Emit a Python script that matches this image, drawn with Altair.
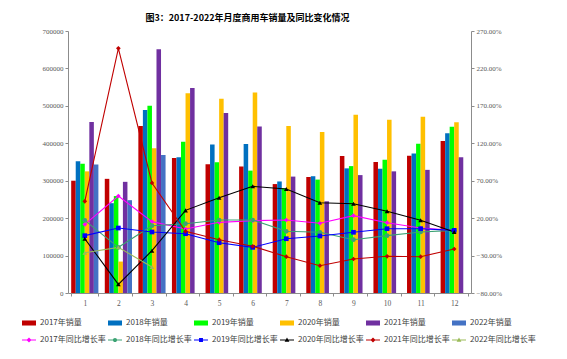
import altair as alt
import pandas as pd

months = [str(i) for i in range(1, 13)]

bar_series = ["2017年销量", "2018年销量", "2019年销量", "2020年销量", "2021年销量", "2022年销量"]
bar_colors = ["#C00000", "#0070C0", "#00FF00", "#FFC000", "#7030A0", "#4472C4"]

s2017 = [300000, 305000, 446000, 361000, 344000, 338000, 291000, 310000, 366000, 350000, 367000, 406000]
s2018 = [352000, 240000, 489000, 363000, 397000, 398000, 298000, 312000, 333000, 332000, 373000, 427000]
s2019 = [345000, 259000, 500000, 404000, 349000, 327000, 280000, 303000, 339000, 356000, 399000, 444000]
s2020 = [325000, 84000, 387000, 534000, 519000, 536000, 446000, 430000, 476000, 463000, 471000, 456000]
s2021 = [457000, 297000, 651000, 548000, 481000, 445000, 311000, 245000, 315000, 325000, 329000, 363000]
s2022 = [343000, 248000, 369000]

line_series = ["2017年同比增长率", "2018年同比增长率", "2019年同比增长率",
               "2020年同比增长率", "2021年同比增长率", "2022年同比增长率"]
line_colors = ["#FF00FF", "#3CA374", "#0000FF", "#000000", "#C00000", "#9BBB59"]
line_shapes = ["diamond", "circle", "square", "triangle-up", "diamond", "triangle-up"]

g2017 = [11.7, 49.6, 15.3, 5.5, 14.4, 16.6, 17.5, 13.1, 23.3, 13.9, 6.8, 3.7]
g2018 = [17.1, -19.0, 9.9, 12.6, 17.5, 17.5, 2.4, 1.1, -8.8, -3.4, 1.5, 3.7]
g2019 = [-3.4, 6.8, 1.5, -0.8, -12.8, -19.0, -7.5, -3.9, 1.1, 5.9, 5.9, 3.7]
g2020 = [-7.5, -68.4, -23.5, 30.4, 47.3, 62.5, 58.9, 40.6, 39.3, 29.1, 17.1, 1.5]
g2021 = [42.5, 246.8, 67.0, 2.4, -8.8, -17.6, -31.5, -43.5, -34.6, -31.0, -31.5, -21.2]
g2022 = [-26.2, -19.0, -45.3]

left_ticks = [0, 100000, 200000, 300000, 400000, 500000, 600000, 700000]
right_ticks = [-80, -30, 20, 70, 120, 170, 220, 270]

# legend-only symbols: a short line with the series marker
bar_legend_path = "M-1,-0.36H1V0.36H-1Z"
ln = "M-1,-0.06H1V0.06H-1Z "
legend_paths = [
    ln + "M0,-0.36L0.36,0L0,0.36L-0.36,0Z",
    ln + "M0.3,0A0.3,0.3 0 1,1 -0.3,0A0.3,0.3 0 1,1 0.3,0Z",
    ln + "M-0.28,-0.28H0.28V0.28H-0.28Z",
    ln + "M0,-0.34L0.34,0.26H-0.34Z",
    ln + "M0,-0.36L0.36,0L0,0.36L-0.36,0Z",
    ln + "M0,-0.34L0.34,0.26H-0.34Z",
]

rows = []
for name, vals in zip(bar_series, [s2017, s2018, s2019, s2020, s2021, s2022]):
    for m, v in zip(months, vals):
        rows.append({"month": m, "series": name, "value": v})
bars_df = pd.DataFrame(rows)

rows = []
for name, vals in zip(line_series, [g2017, g2018, g2019, g2020, g2021, g2022]):
    for m, v in zip(months, vals):
        rows.append({"month": m, "series": name, "value": v})
lines_df = pd.DataFrame(rows)

AX_FONT = "Liberation Serif"
LEG_FONT = "Noto Sans CJK SC"
GRAY = "#8c8c8c"
LABEL = "#595959"
LEG_FS = 8

x_enc = alt.X(
    "month:N", sort=months, title=None,
    scale=alt.Scale(paddingInner=0.19, paddingOuter=0.095),
    axis=alt.Axis(labelAngle=0, tickBand="extent", labelFont=AX_FONT, labelFontSize=7.5,
                  labelColor=LABEL, domainColor=GRAY, tickColor=GRAY, tickSize=3,
                  labelPadding=3, grid=False),
)

bars = alt.Chart(bars_df).mark_bar().encode(
    x=x_enc,
    xOffset=alt.XOffset("series:N", sort=bar_series,
                        scale=alt.Scale(domain=bar_series, paddingInner=0, paddingOuter=0)),
    y=alt.Y("value:Q", title=None,
            scale=alt.Scale(domain=[0, 700000], nice=False, zero=True),
            axis=alt.Axis(orient="left", values=left_ticks, format="d", labelFont=AX_FONT,
                          labelFontSize=7, labelColor=LABEL, domainColor=GRAY, tickColor=GRAY,
                          tickSize=3, labelPadding=2, grid=False)),
    color=alt.Color("series:N", sort=bar_series,
                    scale=alt.Scale(domain=bar_series, range=bar_colors),
                    legend=alt.Legend(title=None, orient="none", legendX=-46, legendY=285,
                                      direction="horizontal", columns=6, gridAlign="all",
                                      symbolType=bar_legend_path, symbolSize=196,
                                      symbolStrokeWidth=0, labelFont=LEG_FONT,
                                      labelFontSize=LEG_FS, labelColor="#404040", labelOffset=4,
                                      columnPadding=26, padding=0)),
)

y_line = alt.Y("value:Q", title=None,
               scale=alt.Scale(domain=[-80, 270], nice=False, zero=False),
               axis=alt.Axis(orient="right", values=right_ticks,
                             labelExpr="format(datum.value, '.2f') + '%'",
                             labelFont=AX_FONT, labelFontSize=7, labelColor=LABEL,
                             domainColor=GRAY, tickColor=GRAY, tickSize=3, labelPadding=2,
                             grid=False))

line_color_scale = alt.Scale(domain=line_series, range=line_colors)

l1 = alt.Chart(lines_df).mark_line(strokeWidth=1.1).encode(
    x=alt.X("month:N", sort=months),
    y=y_line,
    color=alt.Color("series:N", scale=line_color_scale, legend=None),
)

l2 = alt.Chart(lines_df).mark_point(filled=True, size=22, opacity=1).encode(
    x=alt.X("month:N", sort=months),
    y=y_line,
    color=alt.Color("series:N", scale=line_color_scale, legend=None),
    shape=alt.Shape("series:N", scale=alt.Scale(domain=line_series, range=line_shapes),
                    legend=None),
)

line_legend = alt.Legend(title=None, orient="none", legendX=-46, legendY=302,
                         direction="horizontal", columns=6, gridAlign="all",
                         symbolSize=196, symbolStrokeWidth=0, labelFont=LEG_FONT,
                         labelFontSize=LEG_FS, labelColor="#404040", labelOffset=4,
                         columnPadding=2, padding=0, symbolOpacity=1)

l3 = alt.Chart(lines_df).transform_filter("false").mark_point(filled=True, opacity=1).encode(
    x=alt.X("month:N", sort=months),
    y=y_line,
    color=alt.Color("series:N", scale=alt.Scale(domain=line_series, range=line_colors),
                    legend=line_legend),
    shape=alt.Shape("series:N", scale=alt.Scale(domain=line_series, range=legend_paths),
                    legend=line_legend),
)

lines = alt.layer(l1, l2, l3).resolve_scale(color="independent", shape="independent")

chart = alt.layer(bars, lines).resolve_scale(y="independent", color="independent").properties(
    width=403,
    height=262,
    title=alt.TitleParams("图3：2017-2022年月度商用车销量及同比变化情况", font=LEG_FONT,
                          fontSize=9, fontWeight="bold", color="#000000", anchor="middle",
                          dx=-22, offset=4),
    autosize=alt.AutoSizeParams(type="none"),
    padding={"left": 60, "top": 23, "right": 88, "bottom": 56},
).configure_view(stroke=None).configure_axis(labelFlush=False)

chart.save("out.html", embed_options={"renderer": "svg", "actions": False})
